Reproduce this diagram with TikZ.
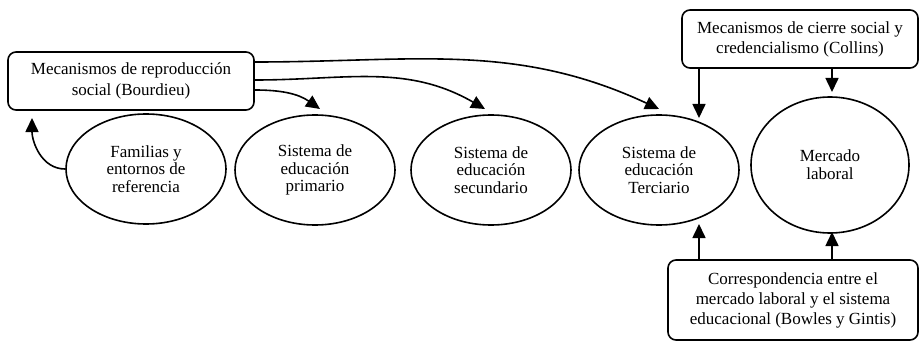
\documentclass[tikz,border=0pt]{standalone}
\usepackage{fontspec}
\setmainfont{Liberation Serif}
\usetikzlibrary{arrows.meta,shapes.geometric}
\begin{document}
\begin{tikzpicture}[x=1pt,y=-1pt,
  every node/.style={font=\fontsize{17}{20}\selectfont},
  boxnode/.style={draw,line width=1.6pt,rounded corners=8pt,align=center,inner sep=0pt},
  ellnode/.style={draw,ellipse,line width=1.6pt,align=center,inner sep=0pt,minimum width=160pt,minimum height=110pt,font=\fontsize{17}{17.8}\selectfont},
  arr/.style={line width=1.6pt,-{Triangle[length=14pt,width=13pt]}}]
\useasboundingbox (0,0) rectangle (920,342);
\node[boxnode,minimum width=246pt,minimum height=58pt,font=\fontsize{17}{21}\selectfont] (bour) at (131,81) {Mecanismos de reproducción\\social (Bourdieu)};
\node[boxnode,minimum width=236pt,minimum height=58pt] (coll) at (800,39) {Mecanismos de cierre social y\\credencialismo (Collins)};
\node[boxnode,minimum width=250pt,minimum height=80pt] (bowl) at (793,300) {Correspondencia entre el\\mercado laboral y el sistema\\educacional (Bowles y Gintis)};
\node[ellnode] (fam) at (146,169) {Familias y\\entornos de\\referencia};
\node[ellnode] (pri) at (315,170) {Sistema de\\educación\\primario};
\node[ellnode] (sec) at (491,170) {Sistema de\\educación\\secundario};
\node[ellnode] (ter) at (659,170) {Sistema de\\educación\\Terciario};
\node[ellnode,minimum width=158pt,minimum height=136pt] (mer) at (830,165) {Mercado\\laboral};
% tips
\coordinate (tb) at (32,118);
\coordinate (tp) at (320,109);
\coordinate (ts) at (485,109);
\coordinate (tt) at (659,109);
\coordinate (tc1) at (699,118);
\coordinate (tc2) at (832,92);
\coordinate (tw1) at (699,224);
\coordinate (tw2) at (832,232);
% connectors
\draw[arr] (fam.west) to[out=180,in=-90] (tb);
\draw[arr] ([yshift=19pt]bour.east) to[out=0,in=155] (tt);
\draw[arr] ([yshift=1pt]bour.east) to[out=0,in=150] (ts);
\draw[arr] ([yshift=-9pt]bour.east) to[out=0,in=145] (tp);
\draw[arr] (coll.south -| tc1) -- (tc1);
\draw[arr] (coll.south -| tc2) -- (tc2);
\draw[arr] (bowl.north -| tw1) -- (tw1);
\draw[arr] (bowl.north -| tw2) -- (tw2);
\end{tikzpicture}
\end{document}
